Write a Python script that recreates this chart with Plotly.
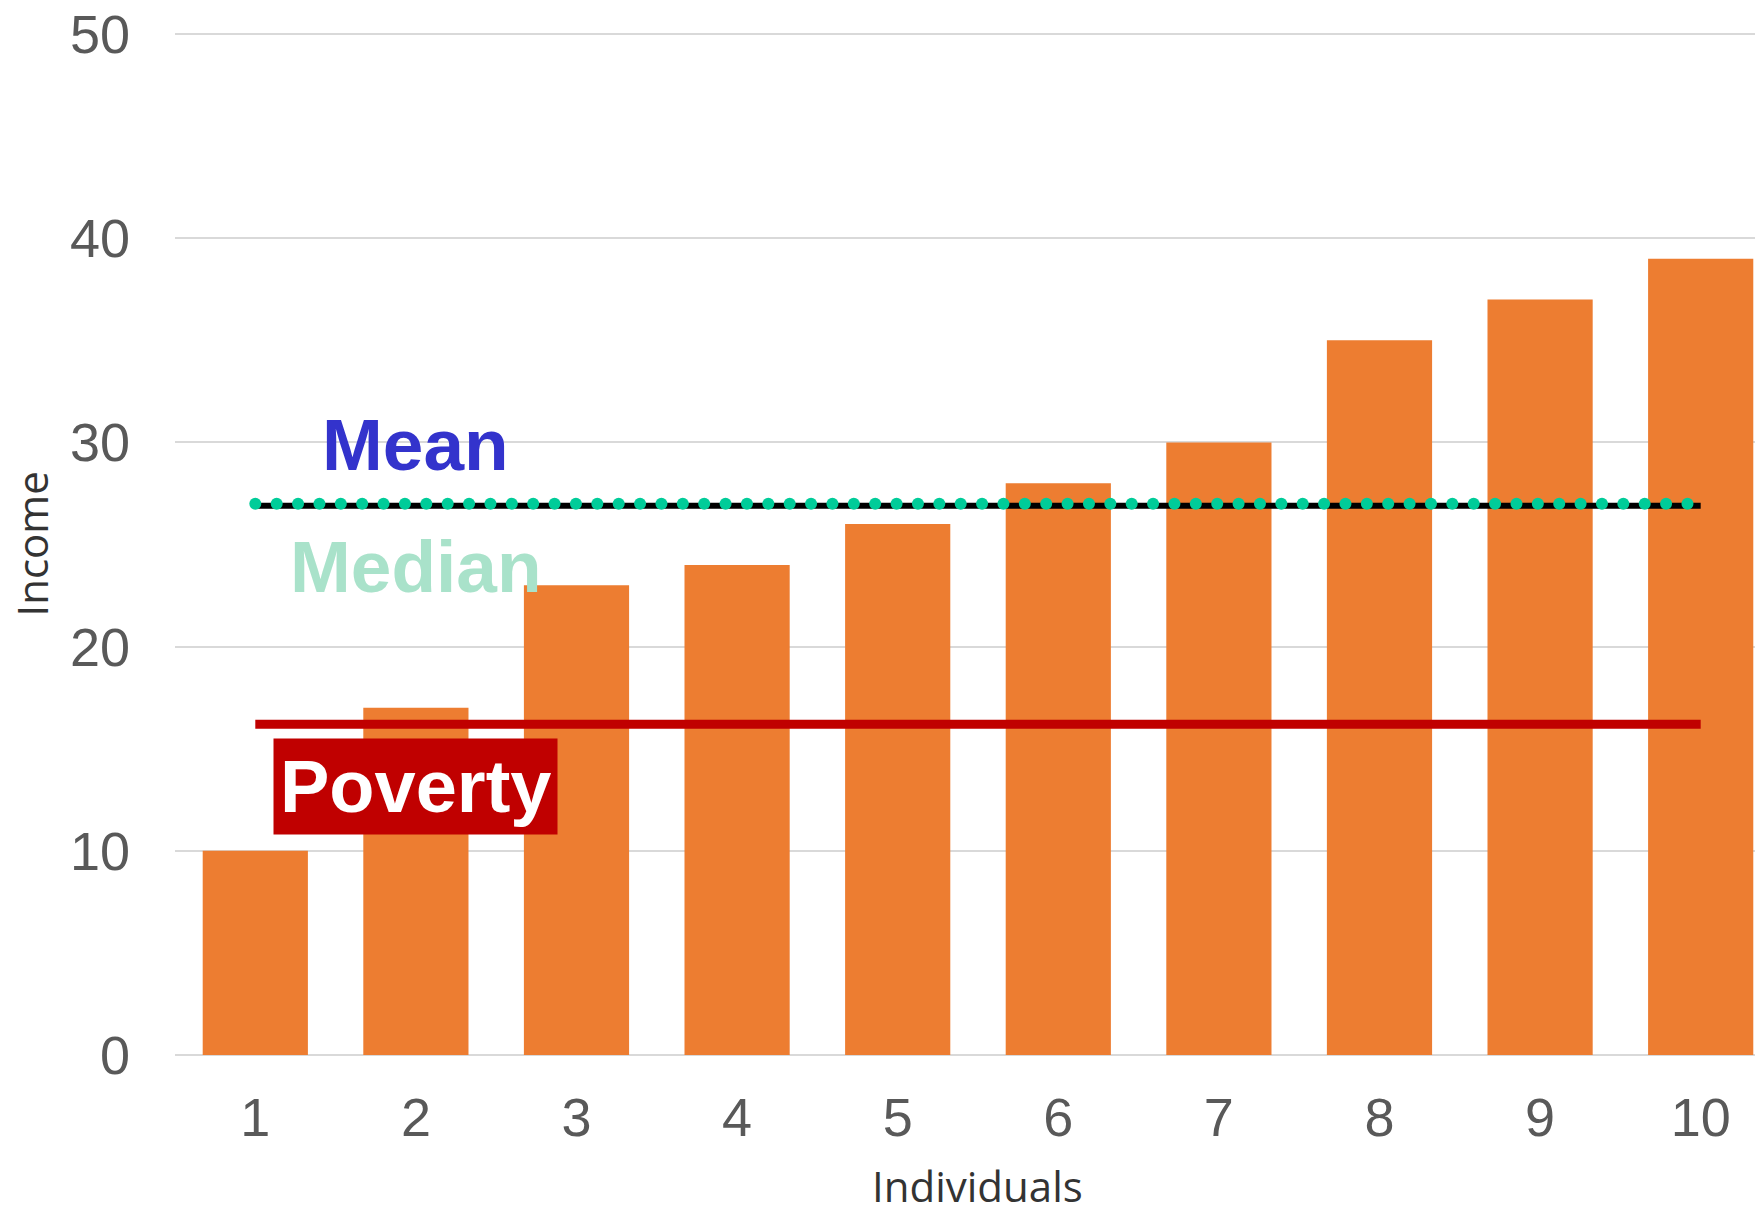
import numpy as np
import plotly.graph_objects as go

individuals = [1, 2, 3, 4, 5, 6, 7, 8, 9, 10]
income = [10, 17, 23, 24, 26, 28, 30, 35, 37, 39]
mean_value = sum(income) / len(income)          # 26.9
median_value = float(np.median(income))         # 27
poverty_value = 0.6 * median_value              # 16.2
y_ticks = [0, 10, 20, 30, 40, 50]

fig = go.Figure()

fig.add_trace(go.Bar(
    x=individuals, y=income,
    marker=dict(color="#ED7D31", line=dict(width=0)),
    showlegend=False, hoverinfo="skip",
))

# Poverty line
fig.add_trace(go.Scatter(
    x=[individuals[0], individuals[-1]], y=[poverty_value, poverty_value],
    mode="lines", line=dict(color="#C00000", width=9),
    showlegend=False, hoverinfo="skip",
))

# Mean line (black)
fig.add_trace(go.Scatter(
    x=[individuals[0], individuals[-1]], y=[mean_value, mean_value],
    mode="lines", line=dict(color="#000000", width=6),
    showlegend=False, hoverinfo="skip",
))

# Median line (round green dots)
dot_step = 0.1331
dot_x = np.arange(individuals[0], individuals[-1] - 0.05, dot_step)
fig.add_trace(go.Scatter(
    x=dot_x, y=[median_value] * len(dot_x),
    mode="markers", marker=dict(color="#00CC99", size=12, line=dict(width=0)),
    showlegend=False, hoverinfo="skip",
))

label_font = "Liberation Sans, Arial, sans-serif"
fig.add_annotation(x=2, y=29.9, text="<b>Mean</b>", showarrow=False,
                   font=dict(family=label_font, size=73, color="#3333CC"),
                   xanchor="center", yanchor="middle")
fig.add_annotation(x=2, y=23.9, text="<b>Median</b>", showarrow=False,
                   font=dict(family=label_font, size=73, color="#A9E2CA"),
                   xanchor="center", yanchor="middle")
fig.add_annotation(x=2, y=13.17, text="<b>Poverty</b>", showarrow=False,
                   font=dict(family=label_font, size=74, color="#FFFFFF"),
                   bgcolor="#C00000", borderpad=6,
                   xanchor="center", yanchor="middle")

# Axis titles as annotations
fig.add_annotation(x=5.5, y=0, yref="paper", yshift=-130, text="Individuals",
                   showarrow=False, xanchor="center", yanchor="middle",
                   font=dict(family="Open Sans, sans-serif", size=42, color="#333333"))
fig.add_annotation(x=0, xref="paper", xshift=-143, y=25, text="Income",
                   showarrow=False, textangle=-90, xanchor="center", yanchor="middle",
                   font=dict(family="Open Sans, sans-serif", size=42, color="#333333"))

fig.update_layout(
    width=1755, height=1195,
    margin=dict(l=167, r=0, t=25, b=148, autoexpand=False),
    plot_bgcolor="white", paper_bgcolor="white",
    bargap=0.345,
    font=dict(family="Liberation Sans, Arial, sans-serif", size=54, color="#595959"),
)
fig.update_xaxes(
    range=[0.5, 10.388], tickmode="array", tickvals=individuals,
    ticktext=[str(i) for i in individuals],
    showgrid=False, showline=False, zeroline=False, ticks="",
    ticklabelstandoff=26, automargin=False,
    tickfont=dict(size=54, color="#595959"),
)
fig.update_yaxes(
    range=[0, 50.05], tickmode="array", tickvals=y_ticks,
    showgrid=True, gridcolor="#D9D9D9", gridwidth=2,
    zeroline=True, zerolinecolor="#D9D9D9", zerolinewidth=2,
    showline=False, ticks="", ticklabelstandoff=44,
    ticklabeloverflow="allow", automargin=False,
    tickfont=dict(size=54, color="#595959"),
)

fig.write_html("out.html")
